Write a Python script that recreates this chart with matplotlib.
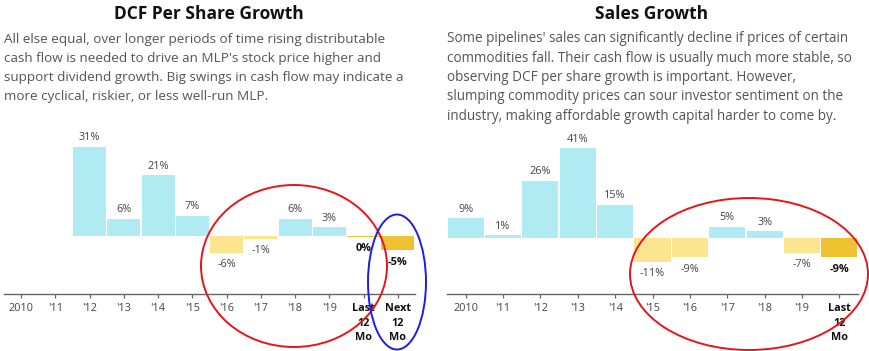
import matplotlib
matplotlib.use("Agg")
import matplotlib.pyplot as plt
from matplotlib.patches import Ellipse

# ---------------- data ----------------
dcf_labels = ["2010", "'11", "'12", "'13", "'14", "'15", "'16", "'17", "'18", "'19",
              "Last\n12\nMo", "Next\n12\nMo"]
dcf_values = [None, None, 31, 6, 21, 7, -6, -1, 6, 3, -0.3, -5]
dcf_highlight = [False] * 10 + [True, True]

sales_labels = ["2010", "'11", "'12", "'13", "'14", "'15", "'16", "'17", "'18", "'19",
                "Last\n12\nMo"]
sales_values = [9, 1, 26, 41, 15, -11, -9, 5, 3, -7, -9]
sales_highlight = [False] * 10 + [True]

dcf_title = "DCF Per Share Growth"
dcf_text = ["All else equal, over longer periods of time rising distributable",
            "cash flow is needed to drive an MLP's stock price higher and",
            "support dividend growth. Big swings in cash flow may indicate a",
            "more cyclical, riskier, or less well-run MLP."]
sales_title = "Sales Growth"
sales_text = ["Some pipelines' sales can significantly decline if prices of certain",
              "commodities fall. Their cash flow is usually much more stable, so",
              "observing DCF per share growth is important. However,",
              "slumping commodity prices can sour investor sentiment on the",
              "industry, making affordable growth capital harder to come by."]

# ---------------- style ----------------
POS = "#B0EAF2"
NEG = "#FDE590"
HI = "#EFC232"
FONT = "Open Sans"
W, H = 870, 351

fig = plt.figure(figsize=(W / 100, H / 100), dpi=100)
fig.patch.set_facecolor("white")


def px(x, y):
    return x / W, 1 - y / H


def draw_chart(left_px, right_px, labels, values, highlight, ymin, ymax):
    x0, _ = px(left_px, 0)
    ax = fig.add_axes([x0, (H - 294) / H, (right_px - left_px) / W, (294 - 130) / H])
    n = len(labels)
    xs = list(range(n))
    for i, v in enumerate(values):
        if v is None:
            continue
        if highlight[i]:
            c = HI
        else:
            c = POS if v >= 0 else NEG
        ax.bar(i, v, width=0.965, color=c, edgecolor="none", zorder=2)
        lab = f"{int(round(v))}%"
        if lab == "-0%":
            lab = "0%"
        weight = "bold" if highlight[i] else "normal"
        col = "#111111" if highlight[i] else "#444444"
        if v >= 0:
            ax.annotate(lab, (i, v), xytext=(0, 2.5), textcoords="offset points",
                        ha="center", va="bottom", fontsize=7.8, color=col,
                        fontweight=weight, family=FONT)
        else:
            ax.annotate(lab, (i, v), xytext=(0, -4.5), textcoords="offset points",
                        ha="center", va="top", fontsize=7.8, color=col,
                        fontweight=weight, family=FONT)
    ax.set_xlim(-0.5, n - 0.5)
    ax.set_ylim(ymin, ymax)
    for s in ["top", "right", "left"]:
        ax.spines[s].set_visible(False)
    ax.spines["bottom"].set_color("#666666")
    ax.spines["bottom"].set_linewidth(1.0)
    ax.set_yticks([])
    ax.set_xticks(xs)
    ax.set_xticklabels(labels, fontsize=7.8, family=FONT, linespacing=1.4)
    ax.tick_params(axis="x", length=3.2, width=0.9, color="#666666", pad=3.5,
                   labelcolor="#444444")
    for i, t in enumerate(ax.get_xticklabels()):
        if highlight[i]:
            t.set_fontweight("bold")
            t.set_color("#111111")
    ax.patch.set_alpha(0)
    return ax


draw_chart(4, 415, dcf_labels, dcf_values, dcf_highlight, -20.2, 36.8)
draw_chart(447, 858, sales_labels, sales_values, sales_highlight, -25.8, 49.3)

# titles
fig.text(*px(209, 14), dcf_title, ha="center", va="center", fontsize=12.5,
         fontweight="bold", family=FONT, color="#111111")
fig.text(*px(652, 14), sales_title, ha="center", va="center", fontsize=12.5,
         fontweight="bold", family=FONT, color="#111111")

for i, line in enumerate(dcf_text):
    fig.text(*px(4, 39 + 19.3 * i), line, ha="left", va="center", fontsize=9.7,
             family=FONT, color="#555555")
for i, line in enumerate(sales_text):
    fig.text(*px(447, 39 + 19.3 * i), line, ha="left", va="center", fontsize=9.75,
             family=FONT, color="#555555")

# hand-drawn style annotation loops
for (cx, cy, w, h, c) in [(294, 266, 186, 162, "#E8141B"),
                          (749, 274, 238, 152, "#E8141B"),
                          (397, 282, 58, 135, "#1C1CF0")]:
    e = Ellipse(px(cx, cy), w / W, h / H, transform=fig.transFigure,
                fill=False, edgecolor=c, linewidth=1.4)
    fig.patches.append(e)

fig.savefig("out.png", dpi=100, facecolor="white")
